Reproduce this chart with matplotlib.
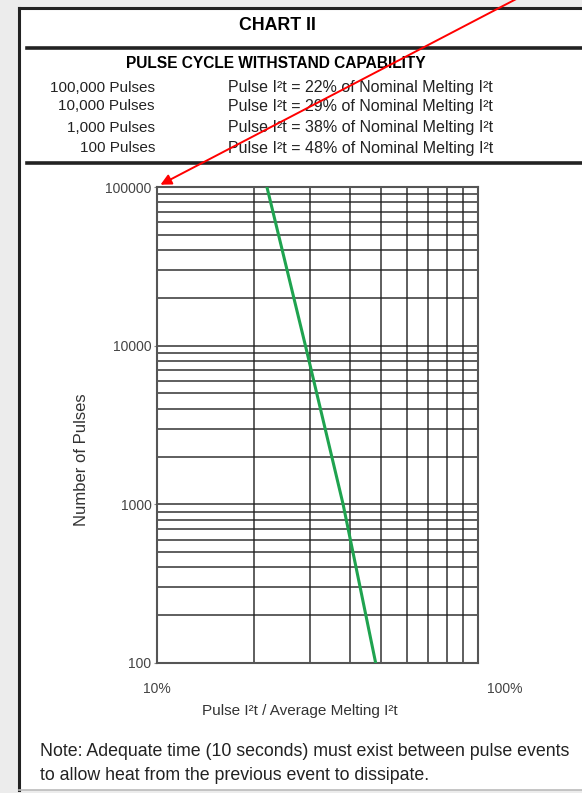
import numpy as np
import matplotlib
matplotlib.use('Agg')
import matplotlib.pyplot as plt
from matplotlib.patches import Rectangle, FancyArrowPatch
from matplotlib.ticker import LogLocator, NullFormatter, FixedLocator, FixedFormatter
import matplotlib.transforms as mtransforms

plt.rcParams['font.family'] = ['Liberation Sans', 'DejaVu Sans']

# data
pulse_pct = [22, 29, 38, 48]
n_pulses = [100000, 10000, 1000, 100]
left_rows = ['100,000 Pulses', '10,000 Pulses', '1,000 Pulses', '100 Pulses']
right_rows = ['Pulse I\u00b2t = 22% of Nominal Melting I\u00b2t',
              'Pulse I\u00b2t = 29% of Nominal Melting I\u00b2t',
              'Pulse I\u00b2t = 38% of Nominal Melting I\u00b2t',
              'Pulse I\u00b2t = 48% of Nominal Melting I\u00b2t']
y_ticks = [100, 1000, 10000, 100000]
y_labels = ['100', '1000', '10000', '100000']
x_ticks = [10, 100]
x_labels = ['10%', '100%']

W, H = 582, 793
fig = plt.figure(figsize=(W/100, H/100), dpi=100, facecolor='#ececec')

def fx(px):
    return px / W

def fy(py):
    return 1 - py / H

# white page with frame
fig.patches.append(Rectangle((fx(19), fy(790)), fx(600) - fx(19), fy(8) - fy(790),
                             transform=fig.transFigure, facecolor='white', edgecolor='none', zorder=-5))
fig.add_artist(plt.Line2D([fx(19), fx(19)], [fy(8), fy(790)], color='#222222', lw=2.2))
fig.add_artist(plt.Line2D([fx(19), 1], [fy(8), fy(8)], color='#222222', lw=2.2))
fig.add_artist(plt.Line2D([fx(19), 1], [fy(790), fy(790)], color='#bbbbbb', lw=1.2))
fig.add_artist(plt.Line2D([fx(27), 1], [fy(47.5), fy(47.5)], color='#222222', lw=2.6))
fig.add_artist(plt.Line2D([fx(27), 1], [fy(163), fy(163)], color='#222222', lw=2.6))

fig.text(fx(277), fy(25), 'CHART II', ha='center', va='center', fontsize=12.8, fontweight='bold')
fig.text(fx(276), fy(63), 'PULSE CYCLE WITHSTAND CAPABILITY', ha='center', va='center',
         fontsize=11.2, fontweight='bold')
row_y = [87.5, 106, 127.5, 148]
for i in range(4):
    fig.text(fx(155), fy(row_y[i]), left_rows[i], ha='right', va='center', fontsize=11, color='#222222')
    fig.text(fx(228), fy(row_y[i]), right_rows[i], ha='left', va='center', fontsize=11.5, color='#222222')

ax = fig.add_axes([fx(157), fy(663), fx(478) - fx(157), fy(187) - fy(663)])
ax.set_facecolor('white')
ax.plot(pulse_pct, n_pulses, color='#1fa34f', lw=2.2, zorder=5)
ax.set_xscale('log')
ax.set_yscale('log')
ax.set_xlim(10, 100)
ax.set_ylim(100, 100000)

ax.xaxis.set_major_locator(FixedLocator(x_ticks))
ax.xaxis.set_major_formatter(FixedFormatter(x_labels))
ax.xaxis.set_minor_locator(LogLocator(base=10, subs=np.arange(2, 10)))
ax.xaxis.set_minor_formatter(NullFormatter())
ax.yaxis.set_major_locator(FixedLocator(y_ticks))
ax.yaxis.set_major_formatter(FixedFormatter(y_labels))
ax.yaxis.set_minor_locator(LogLocator(base=10, subs=np.arange(2, 10)))
ax.yaxis.set_minor_formatter(NullFormatter())

ax.grid(True, which='both', color='#222222', lw=1.2, alpha=0.85)
ax.tick_params(which='minor', length=0)
ax.tick_params(axis='y', which='major', length=2, width=0.8, color='#888888', pad=2,
               labelsize=10, labelcolor='#444444')
ax.tick_params(axis='x', which='major', length=0, pad=14, labelsize=10, labelcolor='#444444')
for s in ax.spines.values():
    s.set_color('#555555')
    s.set_linewidth(1.5)

lbls = ax.get_xticklabels()
lbls[1].set_horizontalalignment('left')
lbls[1].set_transform(lbls[1].get_transform() + mtransforms.ScaledTranslation(0.09, 0, fig.dpi_scale_trans))

ax.set_xlabel('Pulse I\u00b2t / Average Melting I\u00b2t', fontsize=11, color='#333333')
ax.xaxis.set_label_coords((300 - 157) / 321, -(711 - 663) / 476)
ax.xaxis.label.set_va('center')
ax.set_ylabel('Number of Pulses', fontsize=12, color='#333333')
ax.yaxis.set_label_coords(-(157 - 82) / 321, 0.5 - (460 - 425) / 476)
ax.yaxis.label.set_va('center')

fig.text(fx(40), fy(752), 'Note: Adequate time (10 seconds) must exist between pulse events',
         ha='left', va='center', fontsize=12.8, color='#222222')
fig.text(fx(40), fy(775), 'to allow heat from the previous event to dissipate.',
         ha='left', va='center', fontsize=12.8, color='#222222')

# red arrow pointing at the 100000 label
fig.add_artist(FancyArrowPatch((fx(522), fy(-4)), (fx(158), fy(186)),
               transform=fig.transFigure, arrowstyle='-|>', mutation_scale=16,
               color='red', lw=1.4, zorder=10))

fig.savefig('out.png', dpi=100, facecolor=fig.get_facecolor())
